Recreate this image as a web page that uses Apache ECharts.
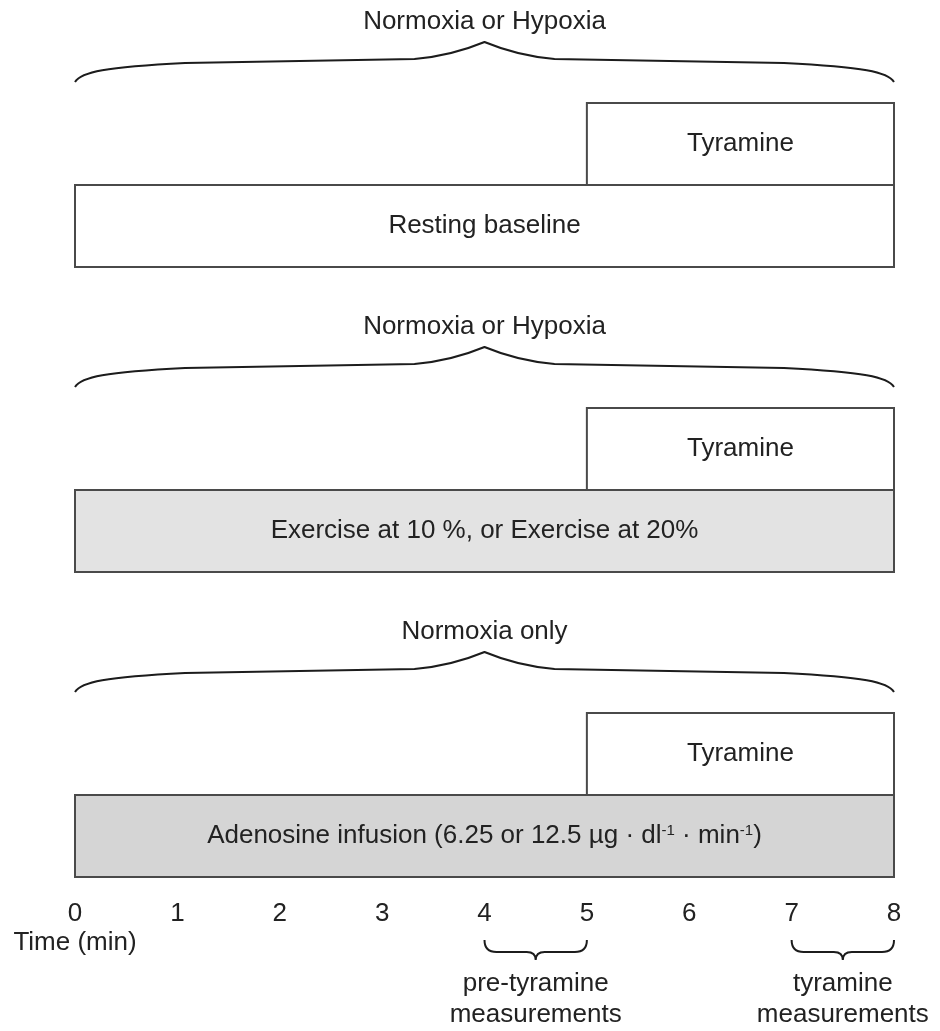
<!DOCTYPE html>
<html><head><meta charset="utf-8">
<script src="https://cdn.jsdelivr.net/npm/echarts@6/dist/echarts.min.js"></script>
<style>html,body{margin:0;padding:0;background:#fff}#c{width:940px;height:1031px}</style>
</head><body><div id="c"></div>
<script>
// ---- data ----
const timeTicks = [0, 1, 2, 3, 4, 5, 6, 7, 8];
const panelConditions = ['Normoxia or Hypoxia', 'Normoxia or Hypoxia', 'Normoxia only'];
const baselineLabels = ['Resting baseline', 'Exercise at 10 %, or Exercise at 20%', 'Adenosine infusion (6.25 or 12.5 µg · dl{sup|-1} · min{sup|-1})'];
const baselineStart = [0, 0, 0];
const baselineEnd = [8, 8, 8];
const tyramineStart = [5, 5, 5];
const tyramineEnd = [8, 8, 8];
const tyramineLabel = 'Tyramine';
const windowStart = [4, 7];
const windowEnd = [5, 8];
const windowLabels = ['pre-tyramine\nmeasurements', 'tyramine\nmeasurements'];
const axisTitle = 'Time (min)';

// ---- style / layout ----
const FONT = '"Liberation Sans", Arial, sans-serif';
const FS = 26;
const TXT = '#222';
const panelFills = ['#ffffff', '#e3e3e3', '#d5d5d5'];
const BOX_STROKE = '#4a4a4a';
const BRACE = '#1c1c1c';
const GRID_BOTTOM_PX = 877;
const PANEL_PX = 305;
const Y_MIN = 3 - GRID_BOTTOM_PX / PANEL_PX;

function bigBrace(xL, xR, b) {
  const xM = (xL + xR) / 2;
  const yE = b - 185, yF = b - 204, yN = b - 208, yP = b - 225;
  return 'M' + xL + ',' + yE +
    ' C' + (xL + 6) + ',' + (yE - 10) + ' ' + (xL + 30) + ',' + (yE - 15) + ' ' + (xL + 110) + ',' + yF +
    ' L' + (xM - 70) + ',' + yN +
    ' C' + (xM - 35) + ',' + (yN - 3) + ' ' + (xM - 12) + ',' + (yP + 5) + ' ' + xM + ',' + yP +
    ' C' + (xM + 12) + ',' + (yP + 5) + ' ' + (xM + 35) + ',' + (yN - 3) + ' ' + (xM + 70) + ',' + yN +
    ' L' + (xR - 110) + ',' + yF +
    ' C' + (xR - 30) + ',' + (yE - 15) + ' ' + (xR - 6) + ',' + (yE - 10) + ' ' + xR + ',' + yE;
}
function smallBrace(xL, xR, yT) {
  const xM = (xL + xR) / 2;
  const yF = yT + 12, yP = yT + 20;
  return 'M' + xL + ',' + yT +
    ' C' + xL + ',' + (yT + 8) + ' ' + (xL + 4) + ',' + yF + ' ' + (xL + 12) + ',' + yF +
    ' L' + (xM - 9) + ',' + yF +
    ' C' + (xM - 3) + ',' + yF + ' ' + xM + ',' + (yF + 3) + ' ' + xM + ',' + yP +
    ' C' + xM + ',' + (yF + 3) + ' ' + (xM + 3) + ',' + yF + ' ' + (xM + 9) + ',' + yF +
    ' L' + (xR - 12) + ',' + yF +
    ' C' + (xR - 4) + ',' + yF + ' ' + xR + ',' + (yT + 8) + ' ' + xR + ',' + yT;
}

const panelData = panelConditions.map((c, i) => [baselineStart[i], baselineEnd[i], tyramineStart[i], tyramineEnd[i], i + 1]);
const windowData = windowStart.map((s, i) => [s, windowEnd[i], 3]);

const chart = echarts.init(document.getElementById('c'), null, { renderer: 'canvas' });
chart.setOption({
  backgroundColor: '#fff',
  animation: false,
  grid: { left: 75, right: 46, top: 0, bottom: 1031 - GRID_BOTTOM_PX },
  xAxis: {
    type: 'value', min: timeTicks[0], max: timeTicks[timeTicks.length - 1], interval: 1,
    axisLine: { show: false }, axisTick: { show: false }, splitLine: { show: false },
    axisLabel: { fontSize: FS, fontFamily: FONT, color: TXT, margin: 24,
      formatter: v => String(timeTicks[timeTicks.indexOf(v)]) }
  },
  yAxis: { type: 'value', min: Y_MIN, max: 3, inverse: true, show: false },
  series: [
    {
      type: 'custom', clip: false, data: panelData,
      encode: { x: [0, 1, 2, 3], y: 4 },
      renderItem: function (params, api) {
        const i = params.dataIndex;
        const row = api.value(4);
        const b = api.coord([api.value(0), row])[1];
        const bx0 = api.coord([api.value(0), row])[0];
        const bx1 = api.coord([api.value(1), row])[0];
        const tx0 = api.coord([api.value(2), row])[0];
        const tx1 = api.coord([api.value(3), row])[0];
        const children = [
          { type: 'rect', shape: { x: bx0, y: b - 82, width: bx1 - bx0, height: 82 },
            style: { fill: panelFills[i], stroke: BOX_STROKE, lineWidth: 2 } },
          { type: 'rect', shape: { x: tx0, y: b - 164, width: tx1 - tx0, height: 82 },
            style: { fill: '#fff', stroke: BOX_STROKE, lineWidth: 2 } },
          { type: 'text', style: { text: tyramineLabel, x: (tx0 + tx1) / 2, y: b - 123,
              align: 'center', verticalAlign: 'middle', font: FS + 'px ' + FONT, fill: TXT } },
          { type: 'text', style: { text: baselineLabels[i], x: (bx0 + bx1) / 2, y: b - 41,
              align: 'center', verticalAlign: 'middle', font: FS + 'px ' + FONT, fill: TXT,
              rich: { sup: { font: '15px ' + FONT, fill: TXT, verticalAlign: 'top', padding: [0, 0, 8, 0] } } } },
          { type: 'path', shape: { pathData: bigBrace(bx0, bx1, b) },
            style: { fill: null, stroke: BRACE, lineWidth: 2 } },
          { type: 'text', style: { text: panelConditions[i], x: (bx0 + bx1) / 2, y: b - 245,
              align: 'center', verticalAlign: 'middle', font: FS + 'px ' + FONT, fill: TXT } }
        ];
        return { type: 'group', children: children };
      }
    },
    {
      type: 'custom', clip: false, data: windowData,
      encode: { x: [0, 1], y: 2 },
      renderItem: function (params, api) {
        const i = params.dataIndex;
        const p0 = api.coord([api.value(0), api.value(2)]);
        const x1 = api.coord([api.value(1), api.value(2)])[0];
        const base = p0[1];
        return { type: 'group', children: [
          { type: 'path', shape: { pathData: smallBrace(p0[0], x1, base + 63) },
            style: { fill: null, stroke: BRACE, lineWidth: 2 } },
          { type: 'text', style: { text: windowLabels[i], x: (p0[0] + x1) / 2, y: base + 122,
              align: 'center', verticalAlign: 'middle', font: FS + 'px ' + FONT, fill: TXT, lineHeight: 31 } }
        ] };
      }
    },
    {
      type: 'custom', clip: false, data: [[timeTicks[0], 3]],
      encode: { x: 0, y: 1 },
      renderItem: function (params, api) {
        const p = api.coord([api.value(0), api.value(1)]);
        return { type: 'text', style: { text: axisTitle, x: p[0], y: p[1] + 66,
          align: 'center', verticalAlign: 'middle', font: FS + 'px ' + FONT, fill: TXT } };
      }
    }
  ]
});
</script>
</body></html>
